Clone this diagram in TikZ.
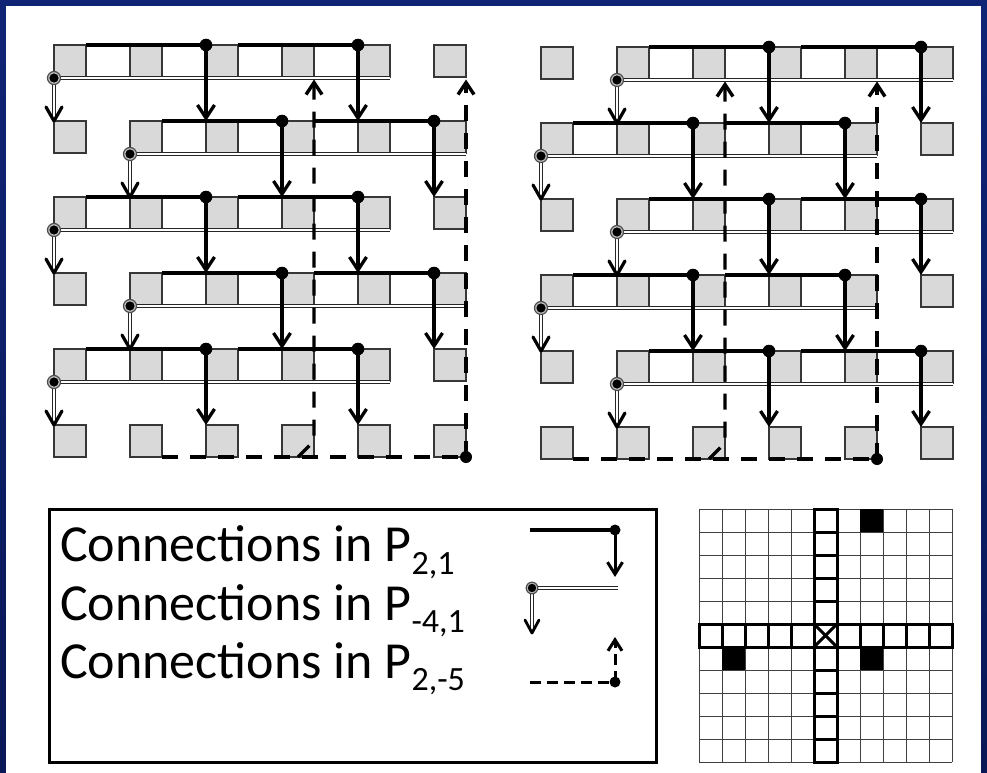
\documentclass[tikz,border=0pt]{standalone}
\usepackage{fontspec}
\setmainfont{Carlito}
\usetikzlibrary{arrows.meta}

\definecolor{navytop}{RGB}{16,36,118}
\definecolor{navybottom}{RGB}{10,24,86}
\definecolor{cellgray}{RGB}{217,217,217}
\definecolor{edgegray}{RGB}{55,55,55}

\tikzset{
  cellbox/.style={draw=edgegray, line width=1.1pt, fill=cellgray},
  stripbox/.style={draw=edgegray, line width=1.1pt, fill=white},
  solidlink/.style={line width=3.3pt},
  solidarrow/.style={line width=3.3pt, -{Straight Barb[length=13pt,width=17pt]}},
  doublelink/.style={draw=black!85, double=white, double distance=1.4pt, line width=0.9pt},
  barb/.style={line width=3.2pt, line join=round, line cap=round},
  dashlink/.style={line width=3.4pt, dash pattern=on 16pt off 12pt},
  dasharrow/.style={-{Straight Barb[length=12pt,width=16pt]}},
  legenddash/.style={line width=3pt, dash pattern=on 11pt off 6pt},
  ringdot/.style={draw=black!70, line width=1.2pt, fill=black!25},
  gridthin/.style={draw=black!75, line width=1pt},
  gridthick/.style={draw=black, line width=3pt},
  legendfont/.style={font=\fontsize{52}{52}\selectfont},
}
\newcommand\subfont{\fontsize{34}{34}\selectfont}

% #1 left x, #2 top y, #3 parity of the first row (0: strip begins at column 0)
\newcommand\latticepanel[3]{%
  % squares and strips
  \foreach \j in {0,...,4}{
    \pgfmathtruncatemacro\cz{mod(\j+#3,2)}
    \pgfmathsetmacro\yt{#2+76*\j}
    \pgfmathsetmacro\yb{\yt+32}
    \pgfmathsetmacro\xs{#1+76*\cz}
    \pgfmathsetmacro\xe{\xs+76*4+32}
    \pgfmathsetmacro\xi{#1+380*(1-\cz)}
    \draw[stripbox] (\xs,\yt) rectangle (\xe,\yb);
    \foreach \k in {0,...,4}{\draw[cellbox] ({\xs+76*\k},\yt) rectangle ++(32,32);}
    \draw[cellbox] (\xi,\yt) rectangle ++(32,32);
  }
  \foreach \i in {0,...,5}{\draw[cellbox] ({#1+76*\i},{#2+380}) rectangle ++(32,32);}
  % P(-4,1) and P(2,1) connections
  \foreach \j in {0,...,4}{
    \pgfmathtruncatemacro\cz{mod(\j+#3,2)}
    \pgfmathsetmacro\yt{#2+76*\j}
    \pgfmathsetmacro\yb{\yt+32}
    \pgfmathsetmacro\yn{\yt+76}
    \pgfmathsetmacro\xs{#1+76*\cz}
    \pgfmathsetmacro\xe{\xs+76*4+32}
    \pgfmathsetmacro\xa{\xs+152}
    \pgfmathsetmacro\xb{\xs+304}
    \draw[doublelink] (\xs,{\yb+1}) -- (\xe,{\yb+1});
    \draw[doublelink] (\xs,\yb) -- (\xs,{\yn-1});
    \draw[barb] ({\xs-8},{\yn-14}) -- (\xs,\yn) -- ({\xs+8},{\yn-14});
    \draw[ringdot] (\xs,{\yb+1}) circle (6.5pt);
    \fill (\xs,{\yb+1}) circle (4.6pt);
    \draw[solidlink] ({\xs+32},\yt) -- (\xa,\yt);
    \draw[solidlink] ({\xa+32},\yt) -- (\xb,\yt);
    \draw[solidarrow] (\xa,\yt) -- (\xa,\yn);
    \draw[solidarrow] (\xb,\yt) -- (\xb,\yn);
    \fill (\xa,\yt) circle (6.3pt);
    \fill (\xb,\yt) circle (6.3pt);
  }
  % P(2,-5) connections
  \pgfmathsetmacro\dl{#1+76*(1-#3)+32}
  \pgfmathsetmacro\dm{\dl+152}
  \pgfmathsetmacro\dr{\dl+304}
  \pgfmathsetmacro\ybot{#2+412}
  \pgfmathsetmacro\ytop{#2+34.5}
  \draw[dashlink] (\dl,\ybot) -- (\dr,\ybot);
  \draw[dashlink, dasharrow] (\dr,\ybot) -- (\dr,\ytop);
  \draw[dashlink, dasharrow] ({\dm-16},\ybot) -- (\dm,{\ybot-16}) -- (\dm,\ytop);
  \fill (\dr,\ybot) circle (6pt);
}

\begin{document}
\begin{tikzpicture}[x=1pt,y=-1pt]
\useasboundingbox (0,0) rectangle (987,773);
\shade[top color=navytop, bottom color=navybottom] (0,0) rectangle (987,773);
\fill[white] (6,6) rectangle (981,780);

\latticepanel{54}{45}{0}
\latticepanel{541}{47}{1}

% legend
\draw[line width=3pt] (49,509) rectangle (656,762);
\node[legendfont, anchor=base west, inner sep=0pt] (l1) at (60,561.7)
  {Connections in P\raisebox{-12.3pt}{\subfont 2,1}};
\node[legendfont, anchor=base west, inner sep=0pt] (l2) at (60,620)
  {Connections in P\raisebox{-12.3pt}{\subfont -4,1}};
\node[legendfont, anchor=base west, inner sep=0pt] (l3) at (60,678)
  {Connections in P\raisebox{-12.3pt}{\subfont 2,-5}};

\draw[solidlink] (530,530) -- (615,530);
\draw[line width=3pt, -{Straight Barb[length=12pt,width=15pt]}] (615,530) -- (615,577);
\fill (615,530) circle (5.5pt);

\draw[doublelink] (532,588) -- (618,588);
\draw[doublelink] (532,588) -- (532,632);
\draw[barb, line width=2.8pt] (525,620) -- (532,633) -- (539,620);
\draw[ringdot] (532,588) circle (5.8pt);
\fill (532,588) circle (4.2pt);

\draw[legenddash] (530,682) -- (615,682);
\draw[legenddash, -{Straight Barb[length=11pt,width=14pt]}] (615,682) -- (615,637);
\fill (615,682) circle (5.5pt);

% offset grid
\foreach \i in {0,...,11}{
  \draw[gridthin] ({699+23*\i},509) -- ({699+23*\i},762);
  \draw[gridthin] (699,{509+23*\i}) -- (952,{509+23*\i});
}
\fill (860,509) rectangle ++(23,23);
\fill (722,647) rectangle ++(23,23);
\fill (860,647) rectangle ++(23,23);
\foreach \k in {0,...,10}{
  \draw[gridthick] (814,{509+23*\k}) rectangle ++(23,23);
  \draw[gridthick] ({699+23*\k},624) rectangle ++(23,23);
}
\draw[gridthick] (814,624) -- (837,647);
\draw[gridthick] (814,647) -- (837,624);
\end{tikzpicture}
\end{document}
